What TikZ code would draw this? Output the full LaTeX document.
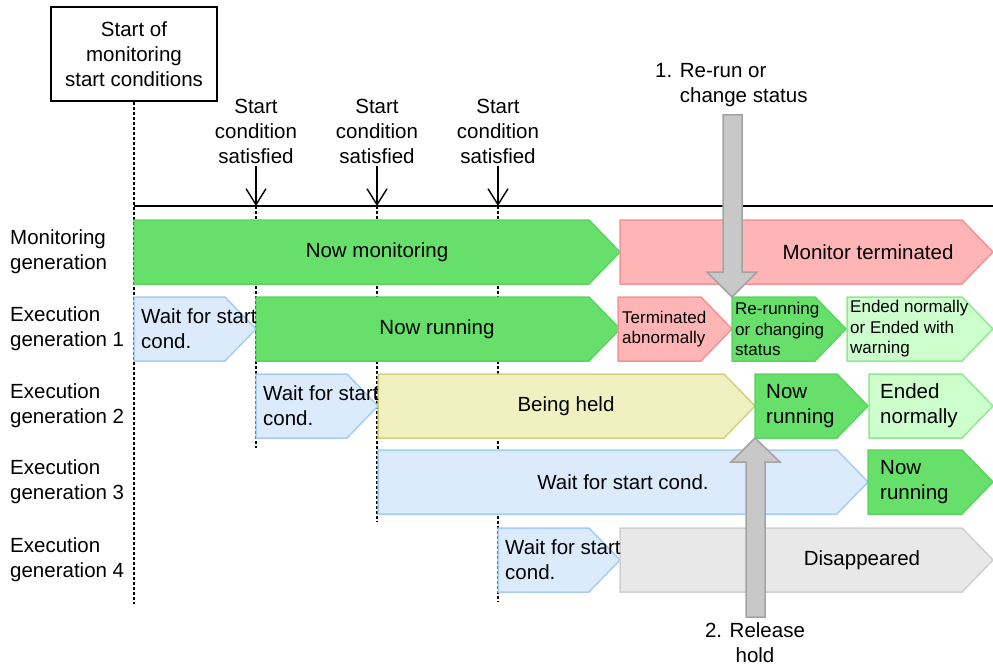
\documentclass[tikz,border=0pt]{standalone}
\usepackage{fontspec}
\setmainfont{Liberation Sans}
\usetikzlibrary{arrows.meta}

\definecolor{rungreen}{HTML}{66E06A}
\definecolor{runedge}{HTML}{5CD460}
\definecolor{errpink}{HTML}{FFB5B5}
\definecolor{erredge}{HTML}{F29494}
\definecolor{waitblue}{HTML}{DCEBFC}
\definecolor{waitedge}{HTML}{A6CDF5}
\definecolor{holdyellow}{HTML}{F0F0C0}
\definecolor{holdedge}{HTML}{D2D27C}
\definecolor{endgreen}{HTML}{CCFFCC}
\definecolor{endedge}{HTML}{92E892}
\definecolor{gonegrey}{HTML}{E8E8E8}
\definecolor{goneedge}{HTML}{CFCFCF}
\definecolor{opgrey}{HTML}{C8C8C8}
\definecolor{opedge}{HTML}{A3A3A3}

% bar with a pointed end: style, left x, tip x, top y
\newcommand{\stagebar}[4]{%
    \filldraw[#1] (#2,#4) -- (#3-31,#4) -- (#3,#4+32) -- (#3-31,#4+64) -- (#2,#4+64) -- cycle;
}

\begin{document}
\begin{tikzpicture}[
        x=1pt, y=-1pt,
        every node/.style={inner sep=0pt, font=\fontsize{20.5}{25}\selectfont},
        small/.style={font=\fontsize{17}{20.5}\selectfont},
        txt/.style={align=left, anchor=west},
        run/.style={fill=rungreen, draw=runedge, line width=1.5pt},
        err/.style={fill=errpink, draw=erredge, line width=1.5pt},
        wait/.style={fill=waitblue, draw=waitedge, line width=1.5pt},
        hold/.style={fill=holdyellow, draw=holdedge, line width=1.5pt},
        ended/.style={fill=endgreen, draw=endedge, line width=1.5pt},
        gone/.style={fill=gonegrey, draw=goneedge, line width=1.5pt},
        startbox/.style={draw, line width=1.5pt, align=center, minimum width=166pt, minimum height=94pt},
        guide/.style={dash pattern=on 3pt off 2pt, line width=1.4pt},
        satarrow/.style={-{Straight Barb[length=16pt,width=20pt]}, line width=1.4pt, shorten <=3pt},
        oparrow/.style={fill=opgrey, draw=opedge, line width=1.5pt},
    ]
    \useasboundingbox (0,0) rectangle (993,666);

    % start box and time line
    \node[startbox](start) at (134,54) {Start of\\monitoring\\start conditions};
    \coordinate (t0) at (134,206);
    \coordinate (tend) at (993,206);
    \coordinate (t1) at (256,206);
    \coordinate (t2) at (377,206);
    \coordinate (t3) at (498,206);
    \draw[guide] (start.south) -- (134,604);
    \draw[guide] (t1) -- (256,448);
    \draw[guide] (t2) -- (377,522);
    \draw[guide] (t3) -- (498,602);
    \draw[line width=2pt] (t0) -- (tend);

    \node[align=center](sat1) at (256,131) {Start\\condition\\satisfied};
    \node[align=center](sat2) at (377,131) {Start\\condition\\satisfied};
    \node[align=center](sat3) at (498,131) {Start\\condition\\satisfied};
    \draw[satarrow] (sat1) -- (t1);
    \draw[satarrow] (sat2) -- (t2);
    \draw[satarrow] (sat3) -- (t3);

    % row labels
    \node[txt](lmon) at (10,252) {Monitoring\\generation};
    \node[txt](lex1) at (10,329) {Execution\\generation 1};
    \node[txt](lex2) at (10,406) {Execution\\generation 2};
    \node[txt](lex3) at (10,482) {Execution\\generation 3};
    \node[txt](lex4) at (10,560) {Execution\\generation 4};

    % monitoring generation
    \stagebar{run}{134}{620}{220}
    \stagebar{err}{620}{993}{220}
    \node[](monnow) at (377,252) {Now monitoring};
    \node[](monend) at (868,252) {Monitor terminated};

    % execution generation 1
    \stagebar{wait}{134}{256}{297}
    \stagebar{run}{256}{620}{297}
    \stagebar{err}{618}{732}{297}
    \stagebar{run}{732}{846}{297}
    \stagebar{ended}{847}{993}{297}
    \node[txt](ex1wait) at (141,329) {Wait for start\\cond.};
    \node[](ex1run) at (437,329) {Now running};
    \node[txt, small](ex1abn) at (622,329) {Terminated\\abnormally};
    \node[txt, small](ex1rerun) at (735,329) {Re-running\\or changing\\status};
    \node[txt, small](ex1end) at (850,329) {Ended normally\\or Ended with\\warning};

    % execution generation 2
    \stagebar{wait}{256}{378}{374}
    \stagebar{hold}{378}{755}{374}
    \stagebar{run}{755}{868}{374}
    \stagebar{ended}{869}{993}{374}
    \node[txt](ex2wait) at (263,406) {Wait for start\\cond.};
    \node[](ex2hold) at (566,406) {Being held};
    \node[txt](ex2run) at (766,406) {Now\\running};
    \node[txt](ex2end) at (880,406) {Ended\\normally};

    % execution generation 3
    \stagebar{wait}{378}{868}{450}
    \stagebar{run}{868}{993}{450}
    \node[](ex3wait) at (623,482) {Wait for start cond.};
    \node[txt](ex3run) at (880,482) {Now\\running};

    % execution generation 4
    \stagebar{wait}{498}{620}{528}
    \stagebar{gone}{620}{993}{528}
    \node[txt](ex4wait) at (505,560) {Wait for start\\cond.};
    \node[](ex4gone) at (862,560) {Disappeared};

    % operations
    \node[txt](op1) at (655,85) {1. Re-run or\\\hphantom{1. }change status};
    \node[align=center](op2) at (755,643) {2. Release\\hold};
    \coordinate (op1tip) at (732,297);
    \coordinate (op2tip) at (755,438);
    \filldraw[oparrow] (op1tip) -- ++(-25,-25) -- ++(16,0) -- ++(0,-157) -- ++(19,0) -- ++(0,157) -- ++(15,0) -- cycle;
    \filldraw[oparrow] (op2tip) -- ++(-24,24) -- ++(15,0) -- ++(0,155) -- ++(19,0) -- ++(0,-155) -- ++(15,0) -- cycle;

\end{tikzpicture}
\end{document}
